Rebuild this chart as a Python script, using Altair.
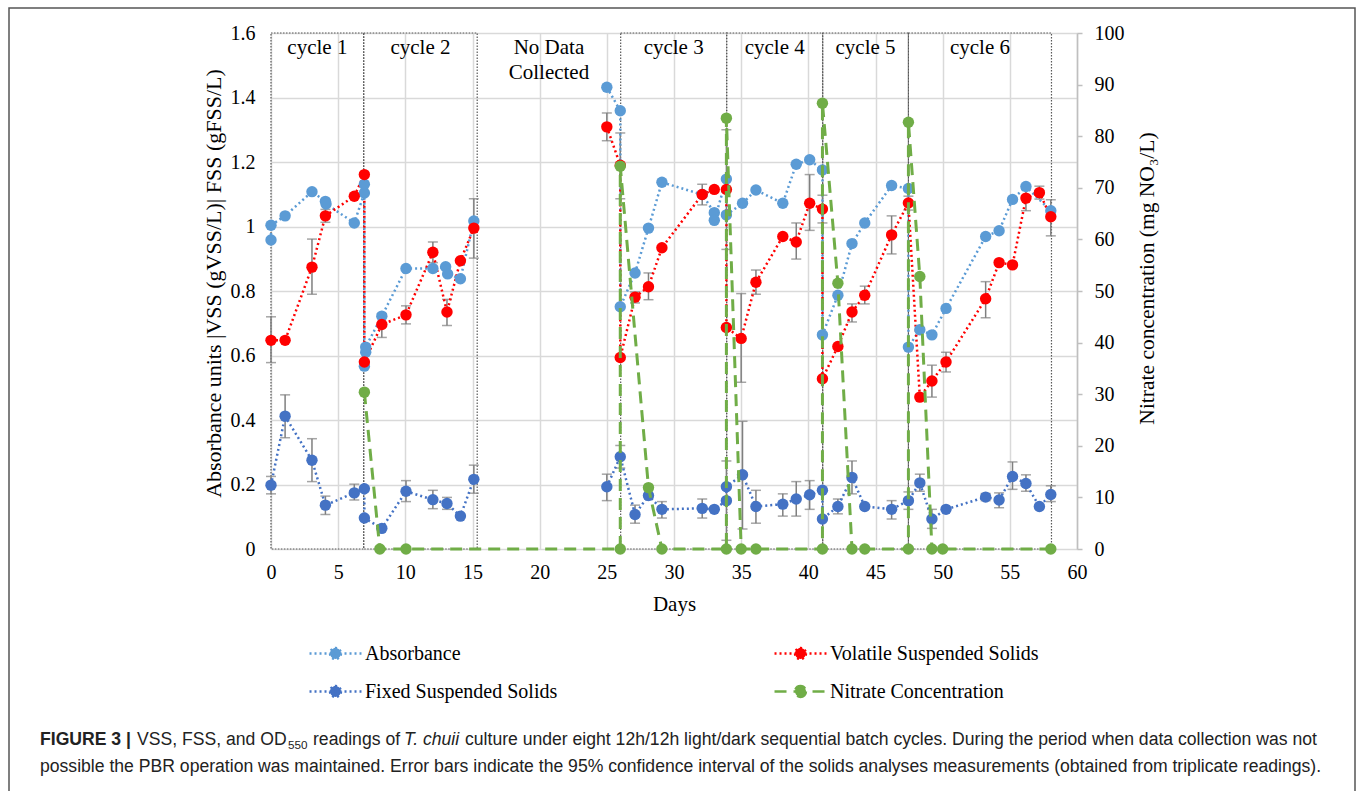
import altair as alt
import pandas as pd

SERIES = ["Absorbance", "Fixed Suspended Solids", "Volatile Suspended Solids", "Nitrate Concentration"]
COLORS = ["#5B9BD5", "#4472C4", "#FF0000", "#70AD47"]
DASHES = [[2, 3], [2, 3], [2, 3], [12, 7]]

# ---- data ----
abs_day = [0, 0, 1.05, 3.05, 4.05, 4.1, 6.2, 6.95, 6.95, 6.95, 7.05, 7.05, 8.25, 10.05, 12.05, 13.0, 13.15,
           14.1, 15.1, 25.0, 26.0, 26.0, 27.1, 28.1, 29.1, 32.1, 33.0, 33.0, 33.9, 33.9, 35.1, 36.1, 38.1,
           39.1, 40.1, 41.05, 41.05, 42.2, 43.25, 44.2, 46.2, 47.45, 47.45, 48.3, 49.2, 50.25, 53.2, 54.2,
           55.2, 56.2, 58.05]
abs_val = [0.958, 1.004, 1.033, 1.108, 1.078, 1.07, 1.011, 1.104, 1.131, 0.567, 0.61, 0.626, 0.722, 0.870,
           0.870, 0.875, 0.853, 0.838, 1.017, 1.432, 1.359, 0.751, 0.856, 0.995, 1.137, 1.099, 1.043, 1.019,
           1.147, 1.036, 1.072, 1.113, 1.072, 1.193, 1.207, 1.175, 0.664, 0.787, 0.947, 1.011, 1.127, 1.118,
           0.626, 0.680, 0.664, 0.746, 0.969, 0.987, 1.084, 1.124, 1.049]

vss_day = [0, 1.05, 3.05, 4.05, 6.2, 6.95, 6.95, 8.25, 10.05, 12.05, 13.1, 14.1, 15.1, 25.0, 26.0, 26.0,
           27.1, 28.1, 29.1, 32.1, 33.0, 33.9, 33.9, 35.0, 36.1, 38.1, 39.1, 40.1, 41.05, 41.05, 42.2, 43.25,
           44.2, 46.2, 47.45, 48.3, 49.2, 50.25, 53.2, 54.2, 55.2, 56.2, 57.2, 58.05]
vss_val = [0.647, 0.647, 0.874, 1.033, 1.094, 1.161, 0.580, 0.696, 0.726, 0.920, 0.735, 0.894, 0.995, 1.309,
           1.19, 0.594, 0.781, 0.813, 0.934, 1.099, 1.115, 1.115, 0.687, 0.653, 0.827, 0.969, 0.952, 1.072,
           1.054, 0.528, 0.628, 0.735, 0.787, 0.974, 1.073, 0.471, 0.521, 0.580, 0.776, 0.888, 0.881, 1.088,
           1.105, 1.030]
vss_err_day = [0, 3.05, 4.05, 8.25, 10.05, 12.05, 13.1, 15.1, 25.0, 26.0, 27.1, 28.1, 32.1, 33.9, 35.0, 36.1,
               39.1, 40.1, 41.05, 43.25, 44.2, 46.2, 47.45, 49.2, 50.25, 53.2, 56.2, 57.2, 58.05]
vss_err_lo = [0.578, 0.790, 1.013, 0.656, 0.698, 0.888, 0.693, 0.902, 1.266, 1.086, 0.763, 0.773, 1.067, 0.929,
              0.517, 0.790, 0.899, 0.988, 1.011, 0.704, 0.760, 0.915, 1.051, 0.471, 0.549, 0.717, 1.049, 1.085,
              0.971]
vss_err_hi = [0.720, 0.961, 1.053, 0.730, 0.754, 0.952, 0.774, 1.086, 1.352, 1.290, 0.797, 0.856, 1.131, 1.300,
              0.792, 0.865, 1.011, 1.161, 1.097, 0.760, 0.815, 1.033, 1.094, 0.570, 0.610, 0.829, 1.120, 1.125,
              1.083]

fss_day = [0, 1.05, 3.05, 4.05, 6.2, 6.95, 6.95, 8.25, 10.05, 12.05, 13.1, 14.1, 15.1, 25.0, 26.0, 27.1, 28.1,
           29.1, 32.1, 33.0, 33.9, 33.9, 35.1, 36.1, 38.1, 39.1, 40.1, 41.05, 41.05, 42.2, 43.25, 44.2, 46.2,
           47.45, 48.3, 49.2, 50.25, 53.2, 54.2, 55.2, 56.2, 57.2, 58.05]
fss_val = [0.198, 0.412, 0.275, 0.136, 0.174, 0.187, 0.096, 0.064, 0.179, 0.153, 0.141, 0.102, 0.216, 0.193,
           0.286, 0.107, 0.166, 0.123, 0.126, 0.123, 0.150, 0.193, 0.230, 0.132, 0.139, 0.155, 0.168, 0.182,
           0.093, 0.132, 0.222, 0.132, 0.123, 0.150, 0.205, 0.093, 0.123, 0.161, 0.152, 0.225, 0.203, 0.132,
           0.169]
fss_err_day = [0, 1.05, 3.05, 4.05, 6.2, 10.05, 12.05, 13.1, 15.1, 25.0, 26.0, 27.1, 29.1, 32.1, 33.9, 35.1,
               36.1, 38.1, 39.1, 40.1, 42.2, 43.25, 46.2, 47.45, 48.3, 49.2, 53.2, 54.2, 55.2, 56.2, 58.05]
fss_err_lo = [0.171, 0.345, 0.209, 0.107, 0.152, 0.147, 0.125, 0.123, 0.173, 0.150, 0.251, 0.080, 0.096, 0.096,
              0.027, 0.062, 0.080, 0.102, 0.102, 0.123, 0.109, 0.171, 0.093, 0.123, 0.179, 0.064, 0.150, 0.128,
              0.185, 0.179, 0.147]
fss_err_hi = [0.225, 0.478, 0.342, 0.164, 0.201, 0.212, 0.182, 0.160, 0.260, 0.232, 0.321, 0.136, 0.147, 0.155,
              0.273, 0.396, 0.182, 0.171, 0.209, 0.212, 0.155, 0.273, 0.150, 0.177, 0.232, 0.123, 0.172, 0.174,
              0.270, 0.230, 0.196]

no3_day = [6.95, 8.1, 10.05, 26.0, 26.0, 28.1, 29.1, 33.9, 33.9, 35.0, 36.1, 41.05, 41.05, 42.2, 43.25, 44.2,
           47.45, 47.45, 48.3, 49.2, 50.0, 58.05]
no3_val = [30.4, 0, 0, 0, 74.2, 11.9, 0, 0, 83.5, 0, 0, 0, 86.4, 51.5, 0, 0, 0, 82.7, 52.8, 0, 0, 0]

cycle_start = [0, 6.9, 26.03, 33.92, 41.07, 47.45]
cycle_end = [6.9, 15.35, 33.92, 41.07, 47.45, 58.1]
cycle_names = ["cycle 1", "cycle 2", "cycle 3", "cycle 4", "cycle 5", "cycle 6"]
gap_label = "No Data\nCollected"

x_ticks = list(range(0, 61, 5))
yl_ticks = [0, 0.2, 0.4, 0.6, 0.8, 1.0, 1.2, 1.4, 1.6]
yr_ticks = list(range(0, 101, 10))

y_left_title = "Absorbance units |VSS (gVSS/L)| FSS (gFSS/L)"
y_right_title = "Nitrate concentration (mg NO\u2083/L)"
x_title = "Days"

caption_bold = "FIGURE 3 |"
caption_a = "VSS, FSS, and OD"
caption_sub = "550"
caption_b = "readings of"
caption_it = "T. chuii"
caption_c = ("culture under eight 12h/12h light/dark sequential batch cycles. During the period when data "
             "collection was not")
caption_line2 = ("possible the PBR operation was maintained. Error bars indicate the 95% confidence interval of "
                 "the solids analyses measurements (obtained from triplicate readings).")

# ---- tables ----
def sdf(name, days, vals):
    return pd.DataFrame({"series": name, "day": days, "v": vals, "i": list(range(len(days))),
                         "seg": [0 if d < 20 else 1 for d in days]})

left_df = pd.concat([sdf(SERIES[0], abs_day, abs_val),
                     sdf(SERIES[2], vss_day, vss_val),
                     sdf(SERIES[1], fss_day, fss_val)], ignore_index=True)
no3_df = sdf(SERIES[3], no3_day, no3_val)
no3_df["seg"] = 0

err_df = pd.concat([
    pd.DataFrame({"series": SERIES[2], "day": vss_err_day, "lo": vss_err_lo, "hi": vss_err_hi}),
    pd.DataFrame({"series": SERIES[1], "day": fss_err_day, "lo": fss_err_lo, "hi": fss_err_hi}),
], ignore_index=True)
cap_df = err_df.melt(id_vars=["series", "day"], value_vars=["lo", "hi"], value_name="v")

box_df = pd.DataFrame({"start": cycle_start, "end": cycle_end, "name": cycle_names})
box_df["mid"] = (box_df["start"] + box_df["end"]) / 2
gap_df = pd.DataFrame({"mid": [(cycle_end[1] + cycle_start[2]) / 2], "name": [gap_label]})

# ---- style ----
SERIF = "Liberation Serif"
SANS = "Liberation Sans"
W, H = 806, 516
SYMBOL = "M-1,0L1,0M0.21,0A0.21,0.21,0,1,1,-0.21,0A0.21,0.21,0,1,1,0.21,0Z"

legend = alt.Legend(title=None, orient="none", legendX=37, legendY=593, columns=2, columnPadding=211,
                    rowPadding=0, symbolType=SYMBOL, symbolSize=2700, symbolStrokeWidth=2.5,
                    labelFont=SERIF, labelFontSize=20, labelColor="#000", labelOffset=2, labelLimit=500)

stroke_enc = alt.Stroke("series:N", scale=alt.Scale(domain=SERIES, range=COLORS), legend=legend)
fill_enc = alt.Fill("series:N", scale=alt.Scale(domain=SERIES, range=COLORS), legend=legend)
dash_enc = alt.StrokeDash("series:N", scale=alt.Scale(domain=SERIES, range=DASHES), legend=legend)

x_scale = alt.Scale(domain=[0, 60], nice=False, zero=False)
x_axis = alt.Axis(values=x_ticks, title=x_title, grid=True, domain=False, ticks=False, labelFlush=False,
                  labelPadding=13, titlePadding=11, format="d", titleFontSize=21)
yl_scale = alt.Scale(domain=[0, 1.6], nice=False)
yl_axis = alt.Axis(values=yl_ticks, title=y_left_title, grid=True, domain=False, ticks=False,
                   labelPadding=16, titlePadding=5, format="~g", titleFontSize=22, titleY=250)
yr_scale = alt.Scale(domain=[0, 100], nice=False)
yr_axis = alt.Axis(values=yr_ticks, title=y_right_title, orient="right", grid=False, domain=True,
                   domainColor="#BFBFBF", domainWidth=1.5, ticks=True, tickColor="#BFBFBF", tickSize=5,
                   tickWidth=1.5, labelPadding=12, titlePadding=34, titleAngle=270, format="d",
                   titleFontSize=21.5, titleY=245)

X = alt.X("day:Q", scale=x_scale, axis=x_axis)
YL = alt.Y("v:Q", scale=yl_scale, axis=yl_axis)

boxes = alt.Chart(box_df).mark_rect(fillOpacity=0, stroke="#595959", strokeWidth=1.2,
                                    strokeDash=[1.5, 1.5]).encode(
    x=alt.X("start:Q", scale=x_scale, axis=x_axis), x2="end:Q",
    y=alt.Y(datum=0, scale=yl_scale, axis=yl_axis), y2=alt.Y2(datum=1.6))

box_text = alt.Chart(box_df).mark_text(font=SERIF, fontSize=21, color="#000", baseline="middle").encode(
    x=alt.X("mid:Q", scale=x_scale, axis=x_axis), y=alt.value(15), text="name:N")
gap_text = alt.Chart(gap_df).mark_text(font=SERIF, fontSize=21, color="#000", baseline="middle",
                                       lineBreak="\n", lineHeight=25).encode(
    x=alt.X("mid:Q", scale=x_scale, axis=x_axis), y=alt.value(15), text="name:N")

err_rules = alt.Chart(err_df).mark_rule(color="#7F7F7F", strokeWidth=1.5).encode(
    x=X, y=alt.Y("lo:Q", scale=yl_scale, axis=yl_axis), y2="hi:Q")
err_caps = alt.Chart(cap_df).mark_tick(color="#7F7F7F", orient="horizontal", size=10, thickness=1.5).encode(
    x=X, y=YL)

lines = alt.Chart(left_df).mark_line(strokeWidth=2.5).encode(
    x=X, y=YL, stroke=stroke_enc, strokeDash=dash_enc, detail="seg:N", order="i:Q")
points = alt.Chart(left_df).mark_circle(size=130, opacity=1).encode(x=X, y=YL, fill=fill_enc)

YR = alt.Y("v:Q", scale=yr_scale, axis=yr_axis)
no3_line = alt.Chart(no3_df).mark_line(strokeWidth=3).encode(
    x=X, y=YR, stroke=stroke_enc, strokeDash=dash_enc, order="i:Q")
no3_points = alt.Chart(no3_df).mark_circle(size=130, opacity=1).encode(x=X, y=YR, fill=fill_enc)


def txt(t, x, y, **kw):
    return alt.Chart(pd.DataFrame({"t": [t]})).mark_text(align="left", baseline="middle", **kw).encode(
        x=alt.value(x), y=alt.value(y), text="t:N")


CAP = dict(font=SANS, fontSize=17.6, color="#222")
caption = [
    txt(caption_bold, 40 - 271, 707, fontWeight="bold", **CAP),
    txt(caption_a, 137 - 271, 707, **CAP),
    txt(caption_sub, 288 - 271, 712, font=SANS, fontSize=11.7, color="#222"),
    txt(caption_b, 313 - 271, 707, **CAP),
    txt(caption_it, 404 - 271, 707, fontStyle="italic", **CAP),
    txt(caption_c, 465 - 271, 707, **CAP),
    txt(caption_line2, 40 - 271, 734, **CAP),
]
frame = alt.Chart(pd.DataFrame({"a": [0]})).mark_rect(fillOpacity=0, stroke="#555", strokeWidth=1.5).encode(
    x=alt.value(9 - 271), x2=alt.value(1355 - 271), y=alt.value(8 - 33), y2=alt.value(800))

left = alt.layer(boxes, box_text, gap_text, err_rules, err_caps, lines, points, frame, *caption)
right = alt.layer(no3_line, no3_points)

chart = alt.layer(left, right).resolve_scale(y="independent").properties(
    width=W, height=H, background="white",
    autosize=alt.AutoSizeParams(type="none"),
    padding={"left": 271, "top": 33, "right": 1357 - 271 - W, "bottom": 791 - 33 - H},
).configure_axis(
    labelFont=SERIF, titleFont=SERIF, labelFontSize=20, titleFontSize=20, titleFontWeight="normal",
    labelColor="#000", titleColor="#000", gridColor="#D9D9D9", gridWidth=1.5,
).configure_view(strokeWidth=0)

chart.save("out.html", embed_options={"renderer": "svg", "actions": False})
